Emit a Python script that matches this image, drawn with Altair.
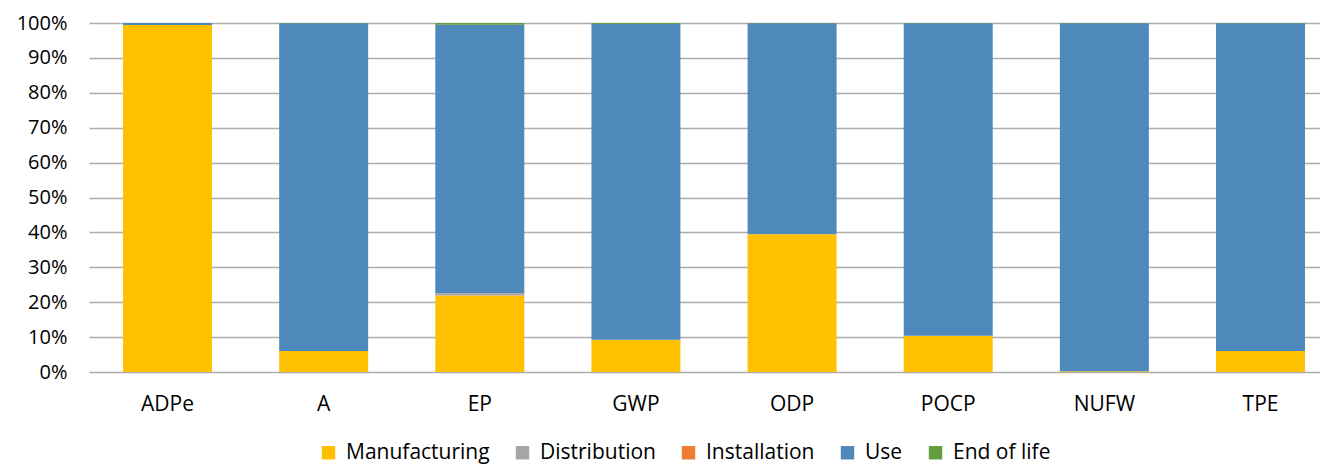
import altair as alt
import pandas as pd

categories = ["ADPe", "A", "EP", "GWP", "ODP", "POCP", "NUFW", "TPE"]
stages = ["Manufacturing", "Distribution", "Installation", "Use", "End of life"]
colors = ["#FFC000", "#A5A5A5", "#ED7D31", "#4F89BC", "#639E3D"]

manufacturing = [99.4, 6.0, 21.9, 9.2, 39.5, 10.3, 0.2, 6.0]
distribution = [0.0, 0.05, 0.6, 0.05, 0.05, 0.1, 0.0, 0.05]
installation = [0.0, 0.0, 0.1, 0.0, 0.0, 0.0, 0.0, 0.0]
use = [0.6, 93.85, 76.9, 90.45, 60.35, 89.5, 99.7, 93.85]
end_of_life = [0.0, 0.1, 0.5, 0.3, 0.1, 0.1, 0.1, 0.1]

series = [manufacturing, distribution, installation, use, end_of_life]
rows = []
for si, (stage, vals) in enumerate(zip(stages, series)):
    for cat, v in zip(categories, vals):
        rows.append({"cat": cat, "stage": stage, "value": v / 100.0, "order": si})
df = pd.DataFrame(rows)

font = "Open Sans"

chart = alt.Chart(df).mark_bar().encode(
    x=alt.X("cat:N", sort=categories, title=None,
            scale=alt.Scale(paddingInner=0.43, paddingOuter=0.157, align=0.694),
            axis=alt.Axis(labelAngle=0, labelFontSize=21, labelFont=font, labelColor="#000000",
                          ticks=False, domain=False, labelPadding=21, grid=False)),
    y=alt.Y("value:Q", stack="zero", title=None,
            scale=alt.Scale(domain=[0, 1], nice=False),
            axis=alt.Axis(format=".0%", values=[i / 10 for i in range(11)],
                          labelFontSize=20, labelFont=font, labelColor="#000000",
                          ticks=False, domain=False, labelPadding=22,
                          grid=True, gridColor="#ADADAD", gridWidth=1.5)),
    color=alt.Color("stage:N", sort=stages, title=None,
                    scale=alt.Scale(domain=stages, range=colors),
                    legend=alt.Legend(orient="none", direction="horizontal",
                                      legendX=229, legendY=419, padding=0,
                                      symbolType="square", symbolSize=180,
                                      symbolStrokeWidth=0, symbolOpacity=1,
                                      labelFontSize=21, labelFont=font, labelColor="#000000",
                                      labelOffset=7, columnPadding=22,
                                      columns=5)),
    order=alt.Order("order:Q", sort="ascending"),
).properties(
    width=1231, height=349,
    autosize=alt.AutoSizeParams(type="none"),
    padding={"left": 81, "top": 15, "right": 0, "bottom": 96},
).configure_view(stroke=None)

chart.save("out.html", embed_options={"renderer": "svg", "actions": False})
